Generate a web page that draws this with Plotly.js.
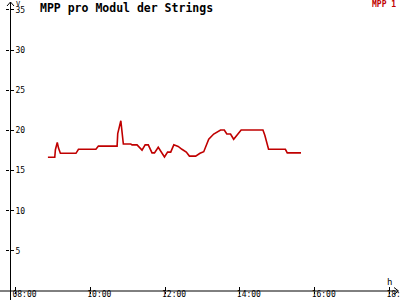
<!DOCTYPE html>
<html>
<head>
<meta charset="utf-8">
<script src="https://cdn.plot.ly/plotly-3.0.1.min.js"></script>
<style>html,body{margin:0;padding:0;background:#fff;overflow:hidden;}#chart{width:400px;height:300px;overflow:hidden;}</style>
</head>
<body>
<div id="chart"></div>
<script>
const day = "2024-06-01";
const times = ["08:52","09:03","09:04","09:07","09:09","09:12","09:37","09:41","10:09","10:13",
  "10:43","10:44","10:49","10:51","10:53","11:05","11:07","11:15","11:23","11:28",
  "11:33","11:39","11:43","11:49","11:59","12:04","12:09","12:14","12:21","12:27",
  "12:34","12:39","12:49","12:56","13:02","13:10","13:18","13:29","13:35","13:39",
  "13:45","13:50","13:57","14:02","14:37","14:40","14:46","15:13","15:16","15:38"];
const mpp1 = [16.65,16.65,17.6,18.5,17.8,17.15,17.15,17.65,17.65,18.05,
  18.05,19.6,21.2,19.6,18.3,18.3,18.2,18.2,17.55,18.2,
  18.2,17.2,17.2,17.9,16.7,17.3,17.3,18.2,18.0,17.65,
  17.3,16.8,16.8,17.15,17.35,18.9,19.55,20.05,20.05,19.55,
  19.55,18.9,19.6,20.05,20.05,19.4,17.65,17.65,17.2,17.2];
const xTickLabels = ["08:00","10:00","12:00","14:00","16:00","18:00"];
const yTickVals = [5,10,15,20,25,30,35];
const seriesName = "MPP 1";
const chartTitle = "MPP pro Modul der Strings";

const W = 400, H = 300, L = 10, R = 2, T = 3, B = 9;
const pw = W - L - R, ph = H - T - B;
const px = x => (x - L) / pw;
const py = y => (H - B - y) / ph;
const font = "DejaVu Sans Mono, monospace";

const trace = {
  x: times.map(t => day + " " + t),
  y: mpp1,
  type: "scatter",
  mode: "lines",
  name: seriesName,
  line: {color: "#c00000", width: 1.6},
  showlegend: false
};

const layout = {
  width: W, height: H,
  margin: {l: L, r: R, t: T, b: B, pad: 0},
  paper_bgcolor: "#ffffff",
  plot_bgcolor: "#ffffff",
  title: {text: "<b>" + chartTitle + "</b>", x: 40 / W, xref: "container", xanchor: "left",
          y: 1 - 7.5 / H, yref: "container", yanchor: "middle",
          font: {family: font, size: 11.5, color: "#000"}},
  xaxis: {
    type: "date",
    range: [day + " 07:51:10", day + " 18:13:40"],
    tickvals: xTickLabels.map(t => day + " " + t),
    ticktext: xTickLabels,
    showgrid: false, zeroline: false, showline: false,
    ticks: "inside", ticklen: 4, tickcolor: "#000", tickwidth: 1,
    ticklabelshift: 9, ticklabelstandoff: -3, ticklabeloverflow: "allow",
    tickfont: {family: font, size: 8, color: "#000"},
    fixedrange: true
  },
  yaxis: {
    range: [0, 35.87],
    tickvals: yTickVals,
    ticktext: yTickVals.map(String),
    showgrid: false, zeroline: false, showline: false,
    ticks: "inside", ticklen: 4, tickcolor: "#000", tickwidth: 1,
    ticklabelposition: "inside", ticklabeloverflow: "allow",
    tickfont: {family: font, size: 8, color: "#000"},
    fixedrange: true
  },
  xaxis2: {
    type: "date", overlaying: "x", matches: "x",
    range: [day + " 07:51:10", day + " 18:13:40"],
    tickvals: xTickLabels.map(t => day + " " + t),
    showticklabels: false, showgrid: false, zeroline: false, showline: false,
    ticks: "outside", ticklen: 2, tickcolor: "#000"
  },
  yaxis2: {
    overlaying: "y", matches: "y", range: [0, 35.87],
    tickvals: yTickVals,
    showticklabels: false, showgrid: false, zeroline: false, showline: false,
    ticks: "outside", ticklen: 3, tickcolor: "#000"
  },
  shapes: [
    {type: "line", xref: "paper", yref: "paper", x0: px(0), x1: px(398), y0: py(291), y1: py(291),
     line: {color: "#000", width: 1}},
    {type: "line", xref: "paper", yref: "paper", x0: px(10.5), x1: px(10.5), y0: py(300), y1: py(2),
     line: {color: "#000", width: 1}},
    {type: "path", xref: "paper", yref: "paper",
     path: `M ${px(7)} ${py(6)} L ${px(10.5)} ${py(2)} L ${px(14)} ${py(6)}`,
     line: {color: "#000", width: 1}},
    {type: "path", xref: "paper", yref: "paper",
     path: `M ${px(394)} ${py(287.5)} L ${px(398.5)} ${py(291)} L ${px(394)} ${py(294.5)}`,
     line: {color: "#000", width: 1}}
  ],
  annotations: [
    {text: "V", xref: "paper", yref: "paper", x: px(13.5), y: py(4), xanchor: "left", yanchor: "middle",
     showarrow: false, font: {family: font, size: 7, color: "#000"}},
    {text: "h", xref: "paper", yref: "paper", x: px(384.5), y: py(281.5), xanchor: "left", yanchor: "middle",
     showarrow: false, font: {family: font, size: 9, color: "#000"}},
    {text: "<b>" + seriesName + "</b>", xref: "paper", yref: "paper", x: px(369.5), y: py(5), xanchor: "left", yanchor: "middle",
     showarrow: false, font: {family: font, size: 8, color: "#c00000"}}
  ]
};

const dummy2 = {x: [], y: [], xaxis: "x2", yaxis: "y2", type: "scatter", showlegend: false, hoverinfo: "skip"};

Plotly.newPlot("chart", [trace, dummy2], layout, {staticPlot: true, displayModeBar: false});
</script>
</body>
</html>
